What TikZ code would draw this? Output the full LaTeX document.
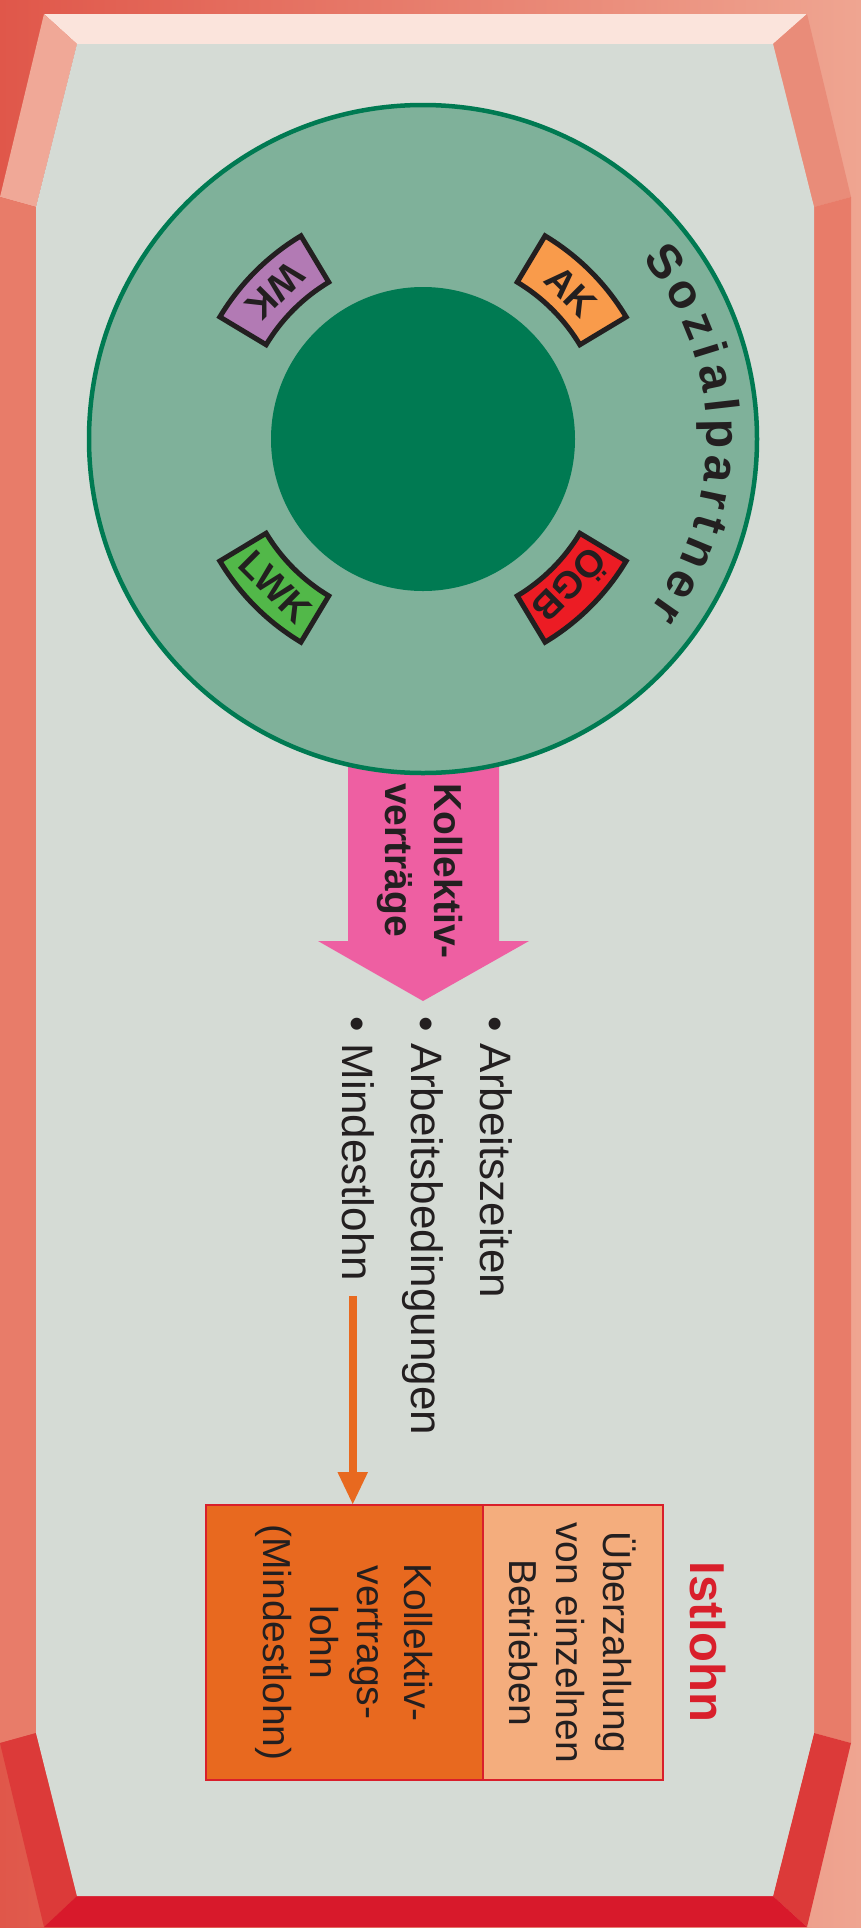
\documentclass[tikz,border=0pt]{standalone}
\usepackage{fontspec}
\setmainfont{Liberation Sans}
\usetikzlibrary{positioning, arrows.meta}

\definecolor{framedark}{HTML}{E0574A}
\definecolor{framelight}{HTML}{EFA591}
\definecolor{framemid}{HTML}{E87C69}
\definecolor{bevelpale}{HTML}{FBE4DC}
\definecolor{bevellight}{HTML}{F0A897}
\definecolor{bevelsalmon}{HTML}{E98C79}
\definecolor{bevelred}{HTML}{DC3A39}
\definecolor{bevelcrimson}{HTML}{D8192B}
\definecolor{panel}{HTML}{D5DBD5}
\definecolor{ringfill}{HTML}{7FB19A}
\definecolor{ringgreen}{HTML}{007A52}
\definecolor{akorange}{HTML}{F99B4B}
\definecolor{wkpurple}{HTML}{B27AB4}
\definecolor{lwkgreen}{HTML}{52B849}
\definecolor{ogbred}{HTML}{EC1C24}
\definecolor{kvpink}{HTML}{EE5FA2}
\definecolor{lohnorange}{HTML}{E8691F}
\definecolor{lohnpale}{HTML}{F4AD7D}
\definecolor{istred}{HTML}{D91F2B}
\definecolor{inkgray}{HTML}{231F20}

\begin{document}
\begin{tikzpicture}[
    x=1pt, y=1pt,
    tag/.style={draw=inkgray, line width=5pt, line join=miter},
    taglabel/.style={text=inkgray, inner sep=0, font=\bfseries\fontsize{38}{38}\selectfont},
    ringletter/.style={text=inkgray, anchor=base, inner sep=0, font=\bfseries\fontsize{48}{48}\selectfont},
    bullet/.style={rotate=-90, anchor=base west, inner sep=0, text=inkgray, font=\fontsize{44}{53}\selectfont},
    cell/.style={rotate=-90, draw=istred, line width=2.5pt, outer sep=0, inner sep=0, align=center, text=inkgray, minimum width=275pt, font=\fontsize{39}{47}\selectfont},
    lohnarrow/.style={draw=lohnorange, line width=8pt, -{Triangle[length=33pt, width=28pt]}}
]
    \useasboundingbox (0,0) rectangle (861,-1928);

    % FRAME
    \fill[left color=framedark, right color=framelight] (0,0) rectangle (861,-1928);
    \fill[bevelpale] (44,-14) -- (807,-14) -- (773,-44) -- (77,-44) -- cycle;
    \fill[bevellight] (44,-14) -- (77,-44) -- (36,-207) -- (0,-197) -- cycle;
    \fill[bevelsalmon] (807,-14) -- (851,-197) -- (814,-207) -- (773,-44) -- cycle;
    \fill[framemid] (0,-197) -- (36,-207) -- (36,-1733) -- (0,-1743) -- cycle;
    \fill[framemid] (851,-197) -- (814,-207) -- (814,-1733) -- (851,-1743) -- cycle;
    \fill[bevelred] (0,-1743) -- (36,-1733) -- (77,-1896) -- (44,-1927) -- cycle;
    \fill[bevelred] (851,-1743) -- (814,-1733) -- (773,-1896) -- (807,-1927) -- cycle;
    \fill[bevelcrimson] (77,-1896) -- (773,-1896) -- (807,-1927) -- (44,-1927) -- cycle;
    \fill[panel] (77,-44) -- (773,-44) -- (814,-207) -- (814,-1733) -- (773,-1896)
        -- (77,-1896) -- (36,-1733) -- (36,-207) -- cycle;

    % big arrow under the ring
    \fill[kvpink] (348,-700) -- (499,-700) -- (499,-941) -- (529,-941) -- (423,-1001)
        -- (318,-941) -- (348,-941) -- cycle;

    % NODES
    \node[circle, fill=ringfill, draw=ringgreen, line width=4.5pt, inner sep=0, minimum size=668pt] (ring) at (423,-439) {};
    \node[circle, fill=ringgreen, inner sep=0, minimum size=304pt] (core) at (ring.center) {};

    \foreach \a/\col/\lab/\rot/\nm in {45/akorange/AK/-45/ak, 135/wkpurple/WK/-135/wk,
                                        225/lwkgreen/LWK/-45/lwk, 315/ogbred/ÖGB/-135/ogb} {
        \draw[tag, fill=\col] ([shift={(\a-14:183pt)}]ring.center) arc[start angle=\a-14, end angle=\a+14, radius=183pt]
            -- ([shift={(\a+14:237pt)}]ring.center) arc[start angle=\a+14, end angle=\a-14, radius=237pt] -- cycle;
        \node[taglabel, rotate=\rot] (\nm) at ([shift={(\a:209pt)}]ring.center) {\lab};
    }

    \foreach \ch/\ang [count=\i] in {S/36.2, o/28.9, z/22.3, i/17.2, a/11.8, l/6.5, p/0.9,
                                     a/-5.9, r/-11.8, t/-16.7, n/-22.5, e/-29.4, r/-35.2}
        \node[ringletter, rotate=\ang-90] (sp\i) at ([shift={(\ang:284pt)}]ring.center) {\ch};

    \node[rotate=-90, anchor=north west, align=left, inner sep=0, text=inkgray,
          font=\bfseries\fontsize{39}{49}\selectfont] (kvlabel) at (463,-783) {Kollektiv-\\verträge};

    \node[bullet] (item1) at (480,-1016) {•\ Arbeitszeiten};
    \node[bullet] (item2) at ([xshift=-69pt]item1.base west) {•\ Arbeitsbedingungen};
    \node[bullet] (item3) at ([xshift=-69pt]item2.base west) {•\ Mindestlohn};

    \node[cell, fill=lohnorange, minimum height=277pt] (kvlohn) at (344.5,-1642.5) {Kollektiv-\\vertrags-\\lohn\\(Mindestlohn)};
    \node[cell, fill=lohnpale, minimum height=180pt, above=0pt of kvlohn] (ueber) {Überzahlung\\von einzelnen\\Betrieben};

    \node[rotate=-90, anchor=base, inner sep=0, text=istred,
          font=\bfseries\fontsize{49}{49}\selectfont] (istlohn) at (690,-1642) {Istlohn};

    % EDGES
    \coordinate (lohnstart) at ([xshift=-5pt, yshift=-15pt]item3.east);
    \draw[lohnarrow] (lohnstart) -- (lohnstart |- kvlohn.west);

\end{tikzpicture}
\end{document}
